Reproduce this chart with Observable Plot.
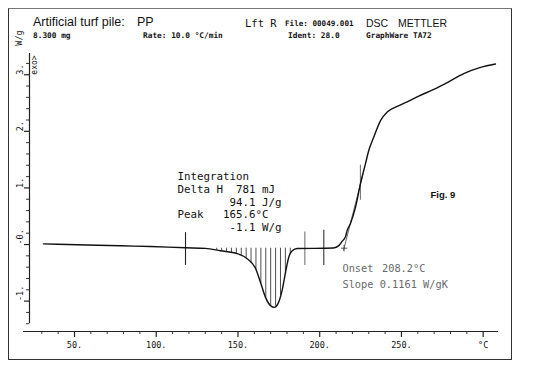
<!DOCTYPE html>
<html><head><meta charset="utf-8">
<script src="https://cdn.jsdelivr.net/npm/d3@7"></script>
<script src="https://cdn.jsdelivr.net/npm/@observablehq/plot@0.6"></script>
<style>
html,body{margin:0;padding:0;background:#fff;}
#wrap{position:relative;width:540px;height:370px;overflow:hidden;background:#fff;}
#wrap svg{position:absolute;left:0;top:0;}
#border{position:absolute;left:8px;top:8px;width:504px;height:352px;box-sizing:border-box;border:1.4px solid #333;border-top:1px solid #777;}
.h{position:absolute;white-space:pre;line-height:1;color:#111;}
.sans{font-family:"Liberation Sans",Arial,sans-serif;}
.mono{font-family:"DejaVu Sans Mono",monospace;font-weight:bold;}
.monoN{font-family:"DejaVu Sans Mono",monospace;}
.rot{position:absolute;white-space:pre;line-height:1;color:#111;transform:translate(-50%,-50%) rotate(-90deg);font-family:"DejaVu Sans Mono",monospace;}
svg text{white-space:pre;}
</style></head><body><div id="wrap"><div id="border"></div></div>
<script>
// ---- data ----
const temperature = [31, 57.9, 78.1, 96.5, 117.9, 130.1, 139.3, 149.5, 155.6, 160.7, 163.8, 166.8, 169.9, 172.3, 174.4, 177.0, 179.1, 181.1, 183.2, 186.2, 202.3, 208.4, 211.7, 213.8, 215.8, 216.8, 218.8, 221.9, 224.9, 228.0, 230.0, 233.1, 237.2, 241.3, 247.4, 253.5, 259.6, 269.8, 278.0, 288.1, 298.4, 307.5];
const heatFlow    = [0.012, -0.009, -0.023, -0.035, -0.058, -0.068, -0.11, -0.16, -0.25, -0.42, -0.67, -0.93, -1.08, -1.11, -1.05, -0.81, -0.49, -0.22, -0.11, -0.07, -0.066, -0.062, -0.02, 0.06, 0.14, 0.25, 0.37, 0.66, 1.07, 1.43, 1.66, 1.90, 2.19, 2.34, 2.44, 2.52, 2.61, 2.74, 2.86, 3.02, 3.13, 3.19];

const xMajor = [50, 100, 150, 200, 250, 300];
const xMajorLabels = ["50.", "100.", "150.", "200.", "250.", "°C"];
const xMinor = [30, 40, 60, 70, 80, 90, 110, 120, 130, 140, 160, 170, 180, 190, 210, 220, 230, 240, 260, 270, 280, 290];
const yMajor = [-1, 0, 1, 2, 3];
const yMajorLabels = ["-1.", "-0.", "1.", "2.", "3."];
const yMinor = [-1.4, -1.2, -0.8, -0.6, -0.4, -0.2, 0.2, 0.4, 0.6, 0.8, 1.2, 1.4, 1.6, 1.8, 2.2, 2.4, 2.6, 2.8, 3.2];

// integration hatching and limit markers
const hatchT = [137, 140, 143, 146, 149, 152, 155, 158, 161, 164, 167, 170, 173, 176, 179, 182];
const integrationBase = -0.065;
const limitT    = [117.9, 190.9, 202.5, 224.9];
const limitLow  = [-0.37, -0.37, -0.37, 0.78];
const limitHigh = [0.21, 0.22, 0.25, 1.40];
const limitDash = ["2,1", "1,1.5", "2.5,1", "1,1.5"];
const limitColor = ["#222", "#777", "#333", "#777"];
const tangentT = [214.6, 226.4];
const tangentW = [-0.099, 1.24];
const onsetPoint = [{T: 214.9, W: -0.065}];

// annotation texts
const integrationLines = ["Integration", "Delta H  781 mJ", "        94.1 J/g", "Peak   165.6°C", "        -1.1 W/g"];
const integrationY = [1.205, 0.977, 0.749, 0.521, 0.293];
const onsetTexts = [
  {T: 213.9, W: -0.43, s: "Onset"},
  {T: 238.1, W: -0.43, s: "208.2°C"},
  {T: 213.9, W: -0.707, s: "Slope 0.1161 W/gK"}
];

const xDomain = [22.47, 309.36];
const yDomain = [-1.537, 3.375];
const xAxisStart = 18.8;
const yAxisBottom = -1.4;

const curve = temperature.map((t, i) => ({T: t, W: heatFlow[i]}));
const bis = d3.bisector(d => d.T).left;
function flowAt(t) {
  const i = Math.max(1, Math.min(curve.length - 1, bis(curve, t)));
  const a = curve[i - 1], b = curve[i];
  return a.W + (t - a.T) / (b.T - a.T) * (b.W - a.W);
}
const limits = limitT.map((t, i) => ({T: t, lo: limitLow[i], hi: limitHigh[i], dash: limitDash[i], c: limitColor[i]}));
const tangent = tangentT.map((t, i) => ({T: t, W: tangentW[i]}));

const chart = Plot.plot({
  width: 540, height: 370,
  marginLeft: 29, marginRight: 42, marginTop: 53, marginBottom: 39,
  x: {domain: xDomain},
  y: {domain: yDomain},
  style: {background: "transparent", fontFamily: "DejaVu Sans Mono", fontSize: "8.5px", color: "#111"},
  marks: [
    Plot.ruleY([yDomain[0]], {x1: xAxisStart, x2: xDomain[1], stroke: "#222", strokeWidth: 1.2}),
    Plot.ruleX([xDomain[0]], {y1: yAxisBottom, y2: yDomain[1], stroke: "#222", strokeWidth: 1.2}),
    Plot.axisX({ticks: xMajor, tickSize: 6, tickFormat: () => "", label: null, stroke: "#222", strokeWidth: 1.2}),
    Plot.axisX({ticks: xMinor, tickSize: 3, tickFormat: () => "", label: null, stroke: "#333"}),
    Plot.axisY({ticks: yMajor, tickSize: 5, tickFormat: () => "", label: null, stroke: "#222", strokeWidth: 1.2}),
    Plot.axisY({ticks: yMinor, tickSize: 3, tickFormat: () => "", label: null, stroke: "#333"}),
    Plot.text(xMajor, {x: d => d, text: (d, i) => xMajorLabels[i], frameAnchor: "bottom", dy: 16, fontSize: 8.5, fill: "#111"}),
    Plot.text(yMajor, {y: d => d, text: (d, i) => yMajorLabels[i], frameAnchor: "left", dx: -9, rotate: -90, fontSize: 8.5, fill: "#111"}),
    // integration hatching
    Plot.ruleX(hatchT, {x: d => d, y1: integrationBase, y2: d => flowAt(d), stroke: "#222", strokeWidth: 0.8}),
    // limit markers
    Plot.ruleX(limits, {x: "T", y1: "lo", y2: "hi", stroke: d => d.c, strokeDasharray: d => d.dash, strokeWidth: 1.1}),
    // onset tangent
    Plot.line(tangent, {x: "T", y: "W", stroke: "#444", strokeWidth: 0.8}),
    Plot.dot(onsetPoint, {x: "T", y: "W", symbol: "plus", r: 2.2, stroke: "#333", strokeWidth: 0.8}),
    // the DSC curve
    Plot.line(curve, {x: "T", y: "W", stroke: "#111", strokeWidth: 1.4, curve: "monotone-x"}),
    // annotations
    Plot.text(integrationLines, {x: () => 113.0, y: (d, i) => integrationY[i], text: d => d, textAnchor: "start", fontSize: 10.8, fill: "#111"}),
    Plot.text(onsetTexts, {x: "T", y: "W", text: "s", textAnchor: "start", fontSize: 10.3, fill: "#6a6a6a"}),
    Plot.text(["Fig. 9"], {x: () => 267.8, y: () => 0.875, text: d => d, textAnchor: "start", fontFamily: "Liberation Sans", fontWeight: "bold", fontSize: 9.5, fill: "#111"})
  ]
});
const wrap = document.getElementById("wrap");
wrap.appendChild(chart);

// header (instrument printout lines)
const header = [
  {t: "Artificial turf pile:", x: 33, b: 26.5, s: 12.5, c: "sans"},
  {t: "PP", x: 137, b: 26.5, s: 12.5, c: "sans"},
  {t: "Lft R", x: 245, b: 26.5, s: 10.5, c: "monoN"},
  {t: "File: 00049.001", x: 285, b: 26.5, s: 7.6, c: "mono"},
  {t: "DSC", x: 366, b: 26.5, s: 10.5, c: "sans"},
  {t: "METTLER", x: 398, b: 26.5, s: 10.5, c: "sans"},
  {t: "8.300 mg", x: 33, b: 39, s: 7.8, c: "mono"},
  {t: "Rate: 10.0 °C/min", x: 143, b: 39, s: 7.8, c: "mono"},
  {t: "Ident: 28.0", x: 288, b: 39, s: 7.8, c: "mono"},
  {t: "GraphWare TA72", x: 366, b: 39, s: 7.8, c: "mono"}
];
for (const h of header) {
  const el = document.createElement("div");
  el.className = "h " + h.c;
  el.textContent = h.t;
  el.style.fontSize = h.s + "px";
  el.style.left = h.x + "px";
  el.style.top = (h.b - 0.846 * h.s) + "px";
  wrap.appendChild(el);
}
const rotated = [
  {t: "W/g", x: 19, y: 38, s: 8.5},
  {t: "exo>", x: 34.5, y: 65, s: 8}
];
for (const r of rotated) {
  const el = document.createElement("div");
  el.className = "rot";
  el.textContent = r.t;
  el.style.fontSize = r.s + "px";
  el.style.left = r.x + "px";
  el.style.top = r.y + "px";
  wrap.appendChild(el);
}
</script>
</body></html>
